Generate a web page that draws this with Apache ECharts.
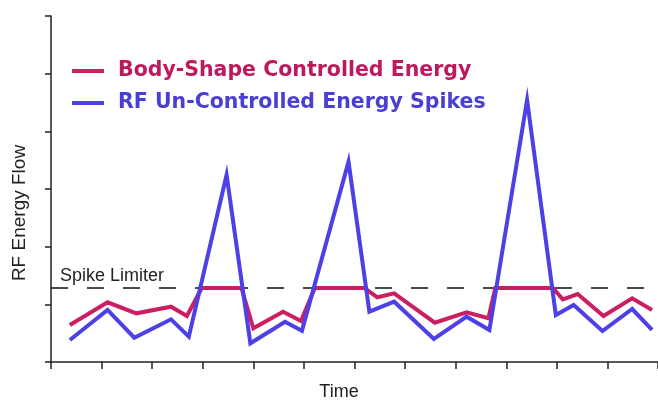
<!DOCTYPE html>
<html>
<head>
<meta charset="utf-8">
<script src="https://cdn.jsdelivr.net/npm/echarts@6/dist/echarts.min.js"></script>
<style>html,body{margin:0;padding:0;background:#fff;}#c{width:658px;height:401px;}</style>
</head>
<body>
<div id="c"></div>
<script>
// Data (x in tick units, y in tick units)
const controlledX = [0.373, 1.118, 1.686, 2.373, 2.686, 2.98, 3.765, 4.0, 4.588, 4.941, 5.216, 6.196, 6.451, 6.784, 7.588, 8.216, 8.647, 8.784, 9.922, 10.118, 10.412, 10.922, 11.49, 11.882];
const controlledY = [0.642, 1.035, 0.844, 0.959, 0.798, 1.283, 1.283, 0.584, 0.872, 0.711, 1.283, 1.283, 1.122, 1.191, 0.681, 0.862, 0.758, 1.283, 1.283, 1.087, 1.179, 0.798, 1.105, 0.902];
const spikesX = [0.373, 1.118, 1.647, 2.373, 2.725, 3.471, 3.941, 4.627, 4.961, 5.882, 6.294, 6.784, 7.569, 8.216, 8.667, 9.412, 9.98, 10.333, 10.902, 11.49, 11.882];
const spikesY = [0.381, 0.902, 0.421, 0.74, 0.439, 3.243, 0.324, 0.699, 0.543, 3.473, 0.872, 1.046, 0.399, 0.786, 0.555, 4.543, 0.815, 0.988, 0.537, 0.919, 0.555];
const limiterValue = 1.283;
const seriesNames = ['Body-Shape Controlled Energy', 'RF Un-Controlled Energy Spikes'];
const limiterLabel = 'Spike Limiter';
const yAxisTitle = 'RF Energy Flow';
const xAxisTitle = 'Time';

const pair = (xs, ys) => xs.map((x, i) => [x, ys[i]]);
const RED = '#cc1f63', BLUE = '#4c40e6';

const chart = echarts.init(document.getElementById('c'), null, {renderer: 'canvas'});
chart.setOption({
  animation: false,
  backgroundColor: '#fff',
  grid: {left: 51, right: -5, top: 16, bottom: 39, containLabel: false},
  xAxis: {
    type: 'value', min: 0, max: 12, interval: 1,
    axisLine: {show: true, lineStyle: {color: '#222', width: 1.5}},
    axisTick: {show: true, length: 7, lineStyle: {color: '#222', width: 1.5}},
    axisLabel: {show: false}, splitLine: {show: false}
  },
  yAxis: {
    type: 'value', min: 0, max: 6, interval: 1,
    axisLine: {show: true, lineStyle: {color: '#222', width: 1.5}},
    axisTick: {show: true, length: 6, lineStyle: {color: '#222', width: 1.5}},
    axisLabel: {show: false}, splitLine: {show: false}
  },
  legend: {
    orient: 'vertical', left: 72, top: 60, padding: 0, itemWidth: 32, itemHeight: 4, itemGap: 10,
    icon: 'rect', selectedMode: false,
    data: [
      {name: seriesNames[0], textStyle: {color: '#c0185c'}},
      {name: seriesNames[1], textStyle: {color: '#4a3fd4'}}
    ],
    textStyle: {fontFamily: 'DejaVu Sans', fontWeight: 'bold', fontSize: 20.5, lineHeight: 22, padding: [0, 0, 0, 9]}
  },
  series: [
    {
      name: limiterLabel, type: 'line', data: [], silent: true, z: 1,
      markLine: {
        silent: true, z: 1, symbol: ['none', 'none'],
        lineStyle: {color: '#111', type: [17, 19], width: 1.5},
        label: {show: true, position: 'insideStartTop', formatter: limiterLabel, color: '#222',
                fontFamily: 'Liberation Sans', fontSize: 18, distance: [9, 3]},
        data: [{yAxis: limiterValue}]
      }
    },
    {
      name: seriesNames[0], type: 'line', data: pair(controlledX, controlledY), z: 3,
      showSymbol: false, symbol: 'none', color: RED,
      lineStyle: {color: RED, width: 4, join: 'miter'}
    },
    {
      name: seriesNames[1], type: 'line', data: pair(spikesX, spikesY), z: 4,
      showSymbol: false, symbol: 'none', color: BLUE,
      lineStyle: {color: BLUE, width: 4, join: 'miter'}
    }
  ],
  graphic: [
    {type: 'text', x: 20, y: 213, rotation: Math.PI / 2,
     style: {text: yAxisTitle, font: '19px "Liberation Sans"', fill: '#222', align: 'center', verticalAlign: 'middle'}},
    {type: 'text', x: 339, y: 392,
     style: {text: xAxisTitle, font: '18px "Liberation Sans"', fill: '#222', align: 'center', verticalAlign: 'middle'}}
  ]
});
</script>
</body>
</html>
